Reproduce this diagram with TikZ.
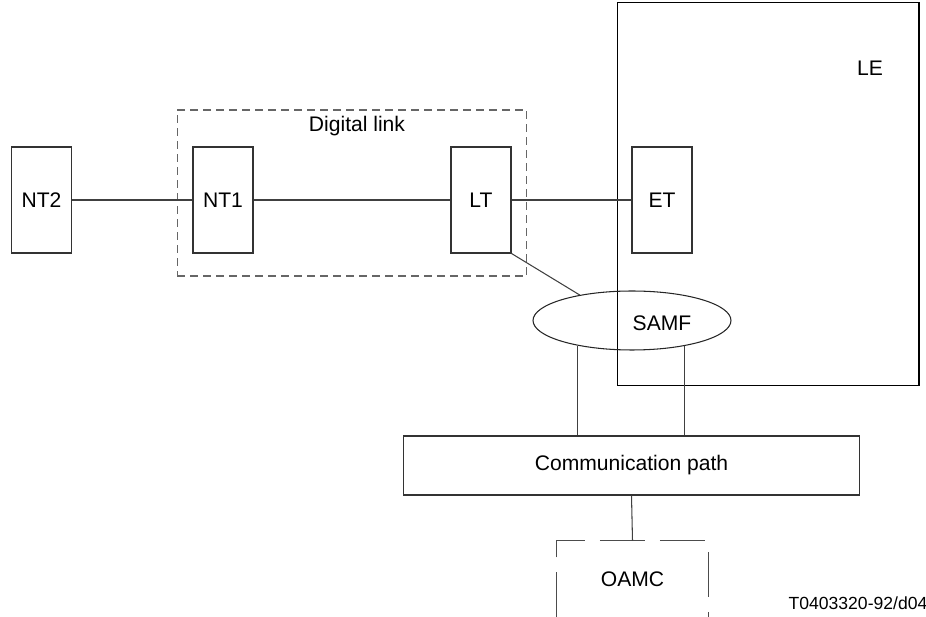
\documentclass[tikz,border=0pt]{standalone}
\usepackage{fontspec}
\setmainfont{Liberation Sans}
\usetikzlibrary{shapes.geometric}

\tikzset{
  unit/.style={draw=black!80,line width=0.6pt,minimum width=1.2cm,minimum height=2.12cm,inner sep=0pt,font=\fontsize{12}{14}\selectfont},
  wire/.style={draw=black!75,line width=0.6pt},
  lbl/.style={inner sep=0pt,font=\fontsize{12}{14}\selectfont}
}

\begin{document}
\begin{tikzpicture}[x=0.02cm,y=-0.02cm]
    \useasboundingbox (0,0) rectangle (926,617);
    %the digital link, dashed
    \node[draw=black!60,line width=0.6pt,dash pattern=on 0.16cm off 0.1cm,minimum width=7cm,minimum height=3.32cm] (dlink) at (352,193) {};
    \node[lbl] (dlinktext) at (357,126) {Digital link};
    %local exchange
    \node[draw,line width=0.6pt,minimum width=6.04cm,minimum height=7.68cm] (le) at (768,194) {};
    \node[lbl] (letext) at (870,68) {LE};
    %the units in a row
    \node[unit] (nt2) at (41.5,200) {NT2};
    \node[unit] (nt1) at (223,200) {NT1};
    \node[unit] (lt) at (481,200) {LT};
    \node[unit] (et) at (662,200) {ET};
    \draw[wire] (nt2) -- (nt1);
    \draw[wire] (nt1) -- (lt);
    \draw[wire] (lt) -- (et);
    %SAMF
    \node[ellipse,draw=black!85,line width=0.6pt,minimum width=3.96cm,minimum height=1.18cm,inner sep=0pt] (samf) at (632,320.5) {};
    \node[lbl] (samftext) at (662,323) {SAMF};
    \draw[wire] (lt.south east) -- (samf.154);
    %communication path
    \node[draw=black!80,line width=0.6pt,minimum width=9.14cm,minimum height=1.18cm,font=\fontsize{12}{14}\selectfont] (comm) at (631.5,465.5) {Communication path};
    \draw[wire] (samf.205.8) -- (samf.205.8 |- comm.north);
    \draw[wire] (samf.334.2) -- (samf.334.2 |- comm.north);
    %OAMC, open at the bottom
    \node[lbl,minimum width=3.02cm,minimum height=1.52cm] (oamc) at (632.5,579) {OAMC};
    \draw[draw=black!70,line width=0.6pt,dash pattern=on 0.9cm off 0.3cm] (oamc.south west) |- (oamc.north east) -- (oamc.south east);
    \draw[wire] (comm.south) -- (oamc.north);
    \node[lbl,font=\fontsize{10}{12}\selectfont] (code) at (858,603) {T0403320-92/d04};
\end{tikzpicture}
\end{document}
